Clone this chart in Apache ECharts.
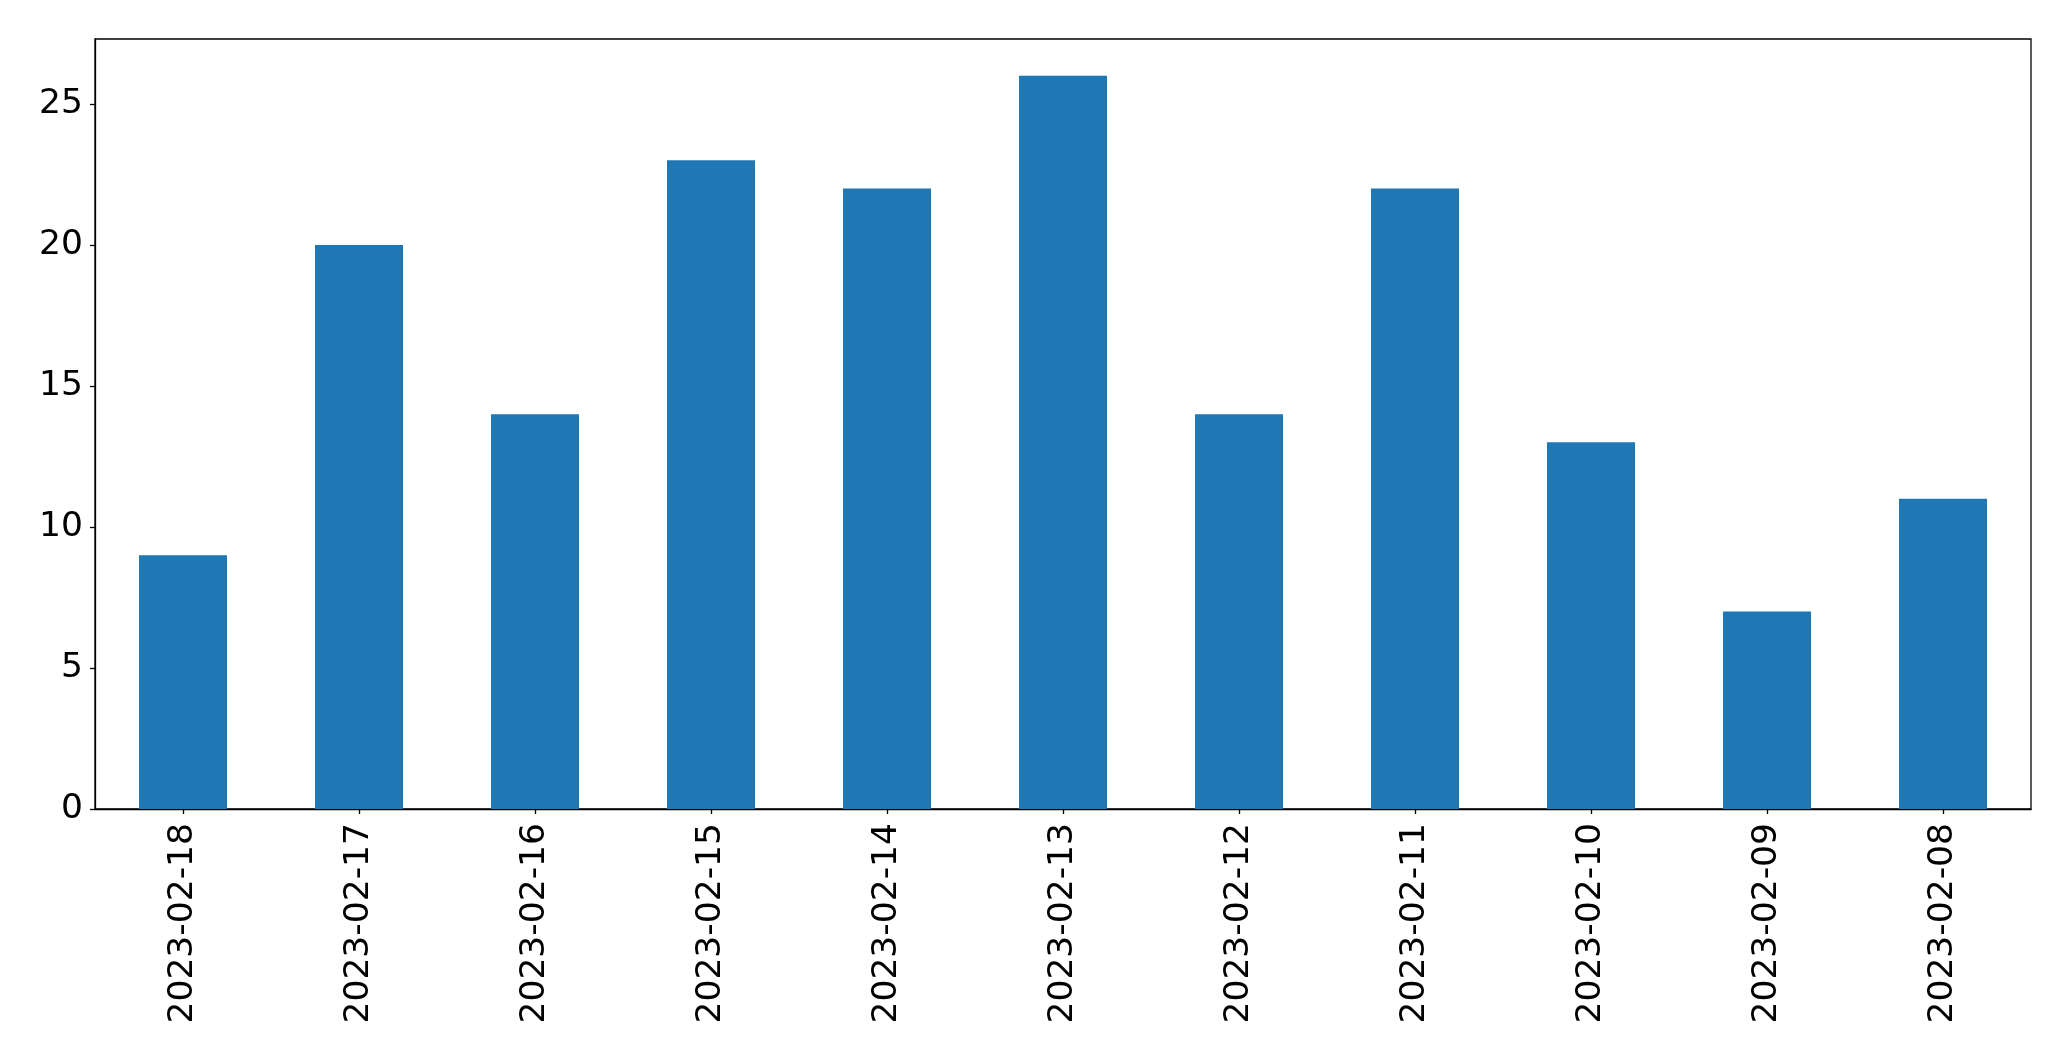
<!DOCTYPE html>
<html><head><meta charset="utf-8">
<script src="https://cdn.jsdelivr.net/npm/echarts@6/dist/echarts.min.js"></script>
<style>html,body{margin:0;padding:0;background:#fff}#c{width:2071px;height:1061px}</style>
</head><body><div id="c"></div>
<script>
const categories = ['2023-02-18','2023-02-17','2023-02-16','2023-02-15','2023-02-14','2023-02-13','2023-02-12','2023-02-11','2023-02-10','2023-02-09','2023-02-08'];
const values = [9, 20, 14, 23, 22, 26, 14, 22, 13, 7, 11];
const yTicks = [0, 5, 10, 15, 20, 25];
const yMax = 27.3;

const chart = echarts.init(document.getElementById('c'), null, {renderer: 'canvas'});
const font = 'DejaVu Sans';
chart.setOption({
  animation: false,
  backgroundColor: '#ffffff',
  grid: {left: 95, right: 40, top: 39, bottom: 252, show: true, borderColor: '#000', borderWidth: 1.3, containLabel: false},
  xAxis: {
    type: 'category', data: categories, boundaryGap: true,
    axisLine: {show: true, lineStyle: {color: '#000', width: 1.3}},
    axisTick: {show: true, alignWithLabel: true, length: 5, lineStyle: {color: '#000', width: 1.3}},
    axisLabel: {rotate: 90, fontFamily: font, fontSize: 34.5, color: '#000', margin: 14, interval: 0},
    splitLine: {show: false}
  },
  yAxis: {
    type: 'value', min: 0, max: yMax, interval: 5,
    axisLine: {show: true, lineStyle: {color: '#000', width: 1.3}},
    axisTick: {show: true, length: 5, customValues: yTicks, lineStyle: {color: '#000', width: 1.3}},
    axisLabel: {fontFamily: font, fontSize: 34.5, color: '#000', margin: 12, customValues: yTicks},
    splitLine: {show: false}
  },
  series: [{type: 'bar', data: values, barWidth: '50%', itemStyle: {color: '#1f77b4'}}]
});
</script></body></html>
